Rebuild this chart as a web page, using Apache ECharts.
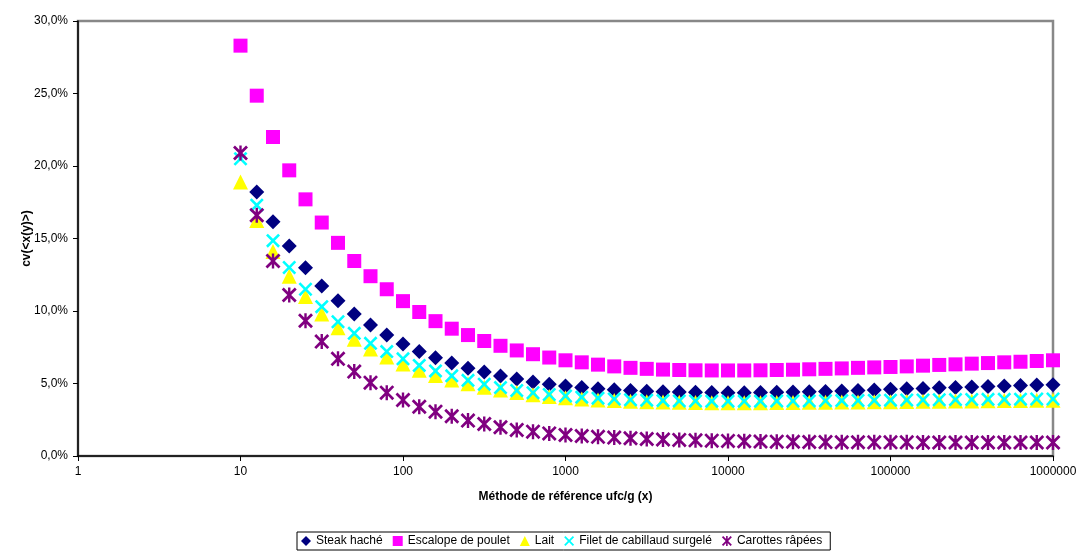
<!DOCTYPE html>
<html>
<head>
<meta charset="utf-8">
<script src="https://cdn.jsdelivr.net/npm/echarts@6/dist/echarts.min.js"></script>
<style>
  html, body { margin: 0; padding: 0; background: #ffffff; }
  #chart { width: 1079px; height: 552px; }
</style>
</head>
<body>
<div id="chart"></div>
<script>
// Reference-method counts (ufc/g), ten steps per decade
const xValues = [10, 12.59, 15.85, 19.95, 25.12, 31.62, 39.81, 50.12, 63.1, 79.43,
  100, 125.9, 158.5, 199.5, 251.2, 316.2, 398.1, 501.2, 631, 794.3,
  1000, 1259, 1585, 1995, 2512, 3162, 3981, 5012, 6310, 7943,
  10000, 12589, 15849, 19953, 25119, 31623, 39811, 50119, 63096, 79433,
  100000, 125893, 158489, 199526, 251189, 316228, 398107, 501187, 630957, 794328,
  1000000];

// cv(<x(y)>) in percent, one value per x step
const steakHache = [null, 18.2, 16.16, 14.48, 12.99, 11.72, 10.71, 9.79, 9.03, 8.34,
  7.72, 7.2, 6.77, 6.42, 6.05, 5.8, 5.52, 5.31, 5.1, 4.95,
  4.83, 4.73, 4.64, 4.57, 4.52, 4.47, 4.43, 4.41, 4.39, 4.38,
  4.37, 4.37, 4.38, 4.39, 4.41, 4.43, 4.45, 4.48, 4.52, 4.56,
  4.6, 4.63, 4.66, 4.7, 4.73, 4.76, 4.8, 4.83, 4.86, 4.89,
  4.92];

const escalopePoulet = [28.3, 24.85, 22.0, 19.7, 17.7, 16.1, 14.7, 13.45, 12.4, 11.5,
  10.68, 9.93, 9.3, 8.78, 8.34, 7.93, 7.6, 7.28, 7.02, 6.79,
  6.6, 6.46, 6.3, 6.18, 6.08, 6.01, 5.96, 5.93, 5.91, 5.9,
  5.9, 5.9, 5.91, 5.93, 5.95, 5.98, 6.01, 6.04, 6.08, 6.11,
  6.14, 6.18, 6.23, 6.28, 6.32, 6.37, 6.41, 6.46, 6.5, 6.55,
  6.6];

const lait = [18.9, 16.25, 14.1, 12.4, 11.0, 9.8, 8.85, 8.05, 7.38, 6.82,
  6.34, 5.92, 5.56, 5.25, 4.98, 4.75, 4.55, 4.38, 4.23, 4.11,
  4.01, 3.93, 3.87, 3.82, 3.78, 3.75, 3.72, 3.7, 3.69, 3.68,
  3.68, 3.68, 3.68, 3.69, 3.69, 3.7, 3.71, 3.72, 3.73, 3.74,
  3.75, 3.76, 3.77, 3.78, 3.79, 3.8, 3.81, 3.82, 3.83, 3.84,
  3.85];

const filetCabillaud = [20.5, 17.3, 14.85, 13.0, 11.5, 10.3, 9.26, 8.46, 7.77, 7.2,
  6.7, 6.25, 5.87, 5.53, 5.22, 4.95, 4.72, 4.52, 4.36, 4.24,
  4.14, 4.06, 3.99, 3.93, 3.88, 3.85, 3.82, 3.8, 3.79, 3.78,
  3.78, 3.78, 3.78, 3.79, 3.79, 3.8, 3.81, 3.82, 3.83, 3.84,
  3.85, 3.86, 3.87, 3.88, 3.89, 3.9, 3.91, 3.91, 3.92, 3.93,
  3.93];

const carottesRapees = [20.9, 16.6, 13.45, 11.1, 9.33, 7.89, 6.7, 5.82, 5.06, 4.37,
  3.86, 3.4, 3.06, 2.74, 2.44, 2.21, 1.98, 1.8, 1.68, 1.56,
  1.45, 1.38, 1.32, 1.27, 1.22, 1.17, 1.14, 1.11, 1.08, 1.06,
  1.04, 1.02, 1.0, 0.99, 0.98, 0.97, 0.96, 0.95, 0.95, 0.94,
  0.94, 0.94, 0.93, 0.93, 0.93, 0.93, 0.93, 0.93, 0.93, 0.93,
  0.93];

const yTicks = [0, 5, 10, 15, 20, 25, 30];

// Marker outlines: a thick cross and a cross with a vertical bar
const crossPath = 'path://M0,13 L13,0 L50,37 L87,0 L100,13 L63,50 L100,87 L87,100 L50,63 L13,100 L0,87 L37,50 Z';
const starPath = 'path://M0,13 L13,0 L50,37 L87,0 L100,13 L63,50 L100,87 L87,100 L50,63 L13,100 L0,87 L37,50 Z M42,0 L58,0 L58,100 L42,100 Z';

function pairs(values) {
  return xValues.map((x, i) => [x, values[i]]);
}

const FONT = '"Liberation Sans", Arial, sans-serif';

const seriesDefs = [
  { name: 'Steak haché', data: steakHache, color: '#000080', symbol: 'diamond', size: 15 },
  { name: 'Escalope de poulet', data: escalopePoulet, color: '#FF00FF', symbol: 'rect', size: 14 },
  { name: 'Lait', data: lait, color: '#FFFF00', symbol: 'triangle', size: 15 },
  { name: 'Filet de cabillaud surgelé', data: filetCabillaud, color: '#00FFFF', symbol: crossPath, size: 14 },
  { name: 'Carottes râpées', data: carottesRapees, color: '#800080', symbol: starPath, size: 15 }
];

const chart = echarts.init(document.getElementById('chart'), null, { renderer: 'canvas' });

chart.setOption({
  animation: false,
  backgroundColor: '#ffffff',
  textStyle: { fontFamily: FONT },
  grid: {
    left: 78, right: 26, top: 21, bottom: 96,
    show: true, borderColor: '#888888', borderWidth: 2.5,
    outerBoundsMode: 'none'
  },
  legend: {
    left: 297, top: 532,
    padding: [3, 8, 3, 4],
    itemGap: 10,
    itemWidth: 10, itemHeight: 10,
    borderColor: '#000000', borderWidth: 1,
    textStyle: { fontFamily: FONT, fontSize: 12, color: '#000000' },
    data: seriesDefs.map(s => s.name)
  },
  xAxis: {
    type: 'log', logBase: 10, min: 1, max: 1000000,
    name: 'Méthode de référence ufc/g (x)',
    nameLocation: 'middle', nameGap: 35,
    nameTextStyle: { fontFamily: FONT, fontSize: 12, fontWeight: 'bold', color: '#000000' },
    axisLine: { show: true, onZero: false, lineStyle: { color: '#000000', width: 1.5 } },
    axisTick: { show: true, length: 5, lineStyle: { color: '#000000' } },
    minorTick: { show: false },
    splitLine: { show: false },
    axisLabel: {
      margin: 10, fontFamily: FONT, fontSize: 12, color: '#000000',
      formatter: v => String(Math.round(v))
    }
  },
  yAxis: {
    type: 'value', min: yTicks[0], max: yTicks[yTicks.length - 1], interval: 5,
    name: 'cv(<x(y)>)',
    nameLocation: 'middle', nameGap: 45, nameRotate: 90,
    nameMoveOverlap: false,
    nameTextStyle: { fontFamily: FONT, fontSize: 12, fontWeight: 'bold', color: '#000000' },
    axisLine: { show: true, lineStyle: { color: '#000000', width: 1.5 } },
    axisTick: { show: true, length: 5, lineStyle: { color: '#000000' } },
    splitLine: { show: false },
    axisLabel: {
      margin: 10, fontFamily: FONT, fontSize: 12, color: '#000000',
      formatter: v => v.toFixed(1).replace('.', ',') + '%'
    }
  },
  series: seriesDefs.map(s => ({
    name: s.name,
    type: 'scatter',
    data: pairs(s.data),
    symbol: s.symbol,
    symbolSize: s.size,
    itemStyle: { color: s.color, opacity: 1 },
    emphasis: { disabled: true }
  }))
});
</script>
</body>
</html>
